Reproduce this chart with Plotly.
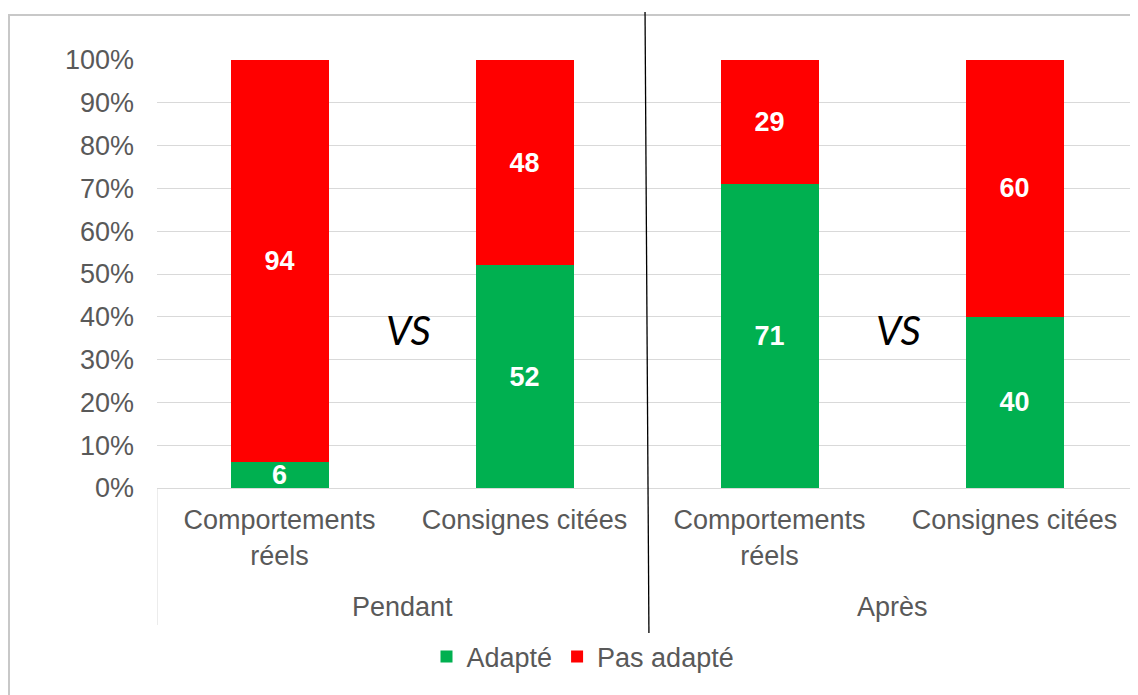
import plotly.graph_objects as go

# ---- data ----
groups = ["Pendant", "Après"]
categories = ["Comportements<br>réels", "Consignes citées", "Comportements<br>réels", "Consignes citées"]
adapte = [6, 52, 71, 40]
pas_adapte = [94, 48, 29, 60]
y_ticks = list(range(0, 101, 10))
y_ticktext = [f"{v}%" for v in y_ticks]

x_pos = list(range(len(categories)))

GREEN = "#00B050"
RED = "#FF0000"
GRAY = "#595959"
LINE = "#d9d9d9"
FONT = "Liberation Sans, Arial, sans-serif"
FS = 27

fig = go.Figure()
for vals, name, col in [(adapte, "Adapté", GREEN), (pas_adapte, "Pas adapté", RED)]:
    fig.add_trace(go.Bar(
        x=x_pos, y=vals, name=name, marker=dict(color=col, line=dict(width=0)),
        text=vals, texttemplate="%{text}", textposition="inside", insidetextanchor="middle",
        constraintext="none", textangle=0,
        textfont=dict(family=FONT, size=FS, color="white", weight="bold"),
    ))

annotations = []
# group labels
for i, g in enumerate(groups):
    annotations.append(dict(
        x=2 * i + 0.5, xref="x", y=-(607 - 488) / 428, yref="paper", text=g, showarrow=False,
        font=dict(family=FONT, size=FS, color=GRAY), xanchor="center", yanchor="middle",
    ))
# "VS" marks
for i in range(len(groups)):
    annotations.append(dict(
        x=2 * i + 0.525, xref="x", y=37, yref="y", text="VS", showarrow=False,
        font=dict(family="Lato, Open Sans, sans-serif", size=40, color="black", style="italic"),
        xanchor="center", yanchor="middle",
    ))

shapes = [
    # outer chart border
    dict(type="rect", xref="paper", yref="paper", x0=(9 - 157) / 980, x1=1.05,
         y0=-0.5, y1=(488 - 15) / 428, line=dict(color="#c8c8c8", width=2), layer="below"),
    # left / right category dividers
    dict(type="line", xref="x", yref="paper", x0=-0.5, x1=-0.5, y0=0, y1=-(625 - 488) / 428,
         line=dict(color=LINE, width=1)),
    dict(type="line", xref="x", yref="paper", x0=3.5, x1=3.5, y0=0, y1=-(625 - 488) / 428,
         line=dict(color=LINE, width=1)),
    # black separator between groups
    dict(type="line", xref="x", yref="paper", x0=1.492, x1=1.508,
         y0=(488 - 12) / 428, y1=-(637 - 488) / 428,
         line=dict(color="black", width=1.3)),
]

fig.update_layout(
    width=1130, height=687,
    barmode="stack", bargap=0.6,
    plot_bgcolor="white", paper_bgcolor="white",
    margin=dict(l=149, r=1, t=52, b=207, autoexpand=False),
    font=dict(family=FONT, size=FS, color=GRAY),
    xaxis=dict(range=[-0.5, 3.5], tickvals=x_pos, ticktext=categories,
               showgrid=False, zeroline=False, showline=True, linecolor=LINE, linewidth=1,
               ticks="", tickfont=dict(family=FONT, size=FS, color=GRAY), ticklabelstandoff=8,
               automargin=False, fixedrange=True),
    yaxis=dict(range=[0, 100], tickvals=y_ticks, ticktext=y_ticktext, showgrid=True, gridcolor=LINE,
               gridwidth=1, zeroline=False, showline=False, ticks="",
               tickfont=dict(family=FONT, size=FS, color=GRAY), ticklabelstandoff=22,
               automargin=False, fixedrange=True),
    legend=dict(orientation="h", x=(583 - 157) / 980, xanchor="center",
                y=-(657 - 488) / 428, yanchor="middle", traceorder="normal",
                font=dict(family=FONT, size=FS, color=GRAY), itemwidth=30),
    showlegend=True,
    annotations=annotations,
    shapes=shapes,
)

fig.write_html("out.html")
